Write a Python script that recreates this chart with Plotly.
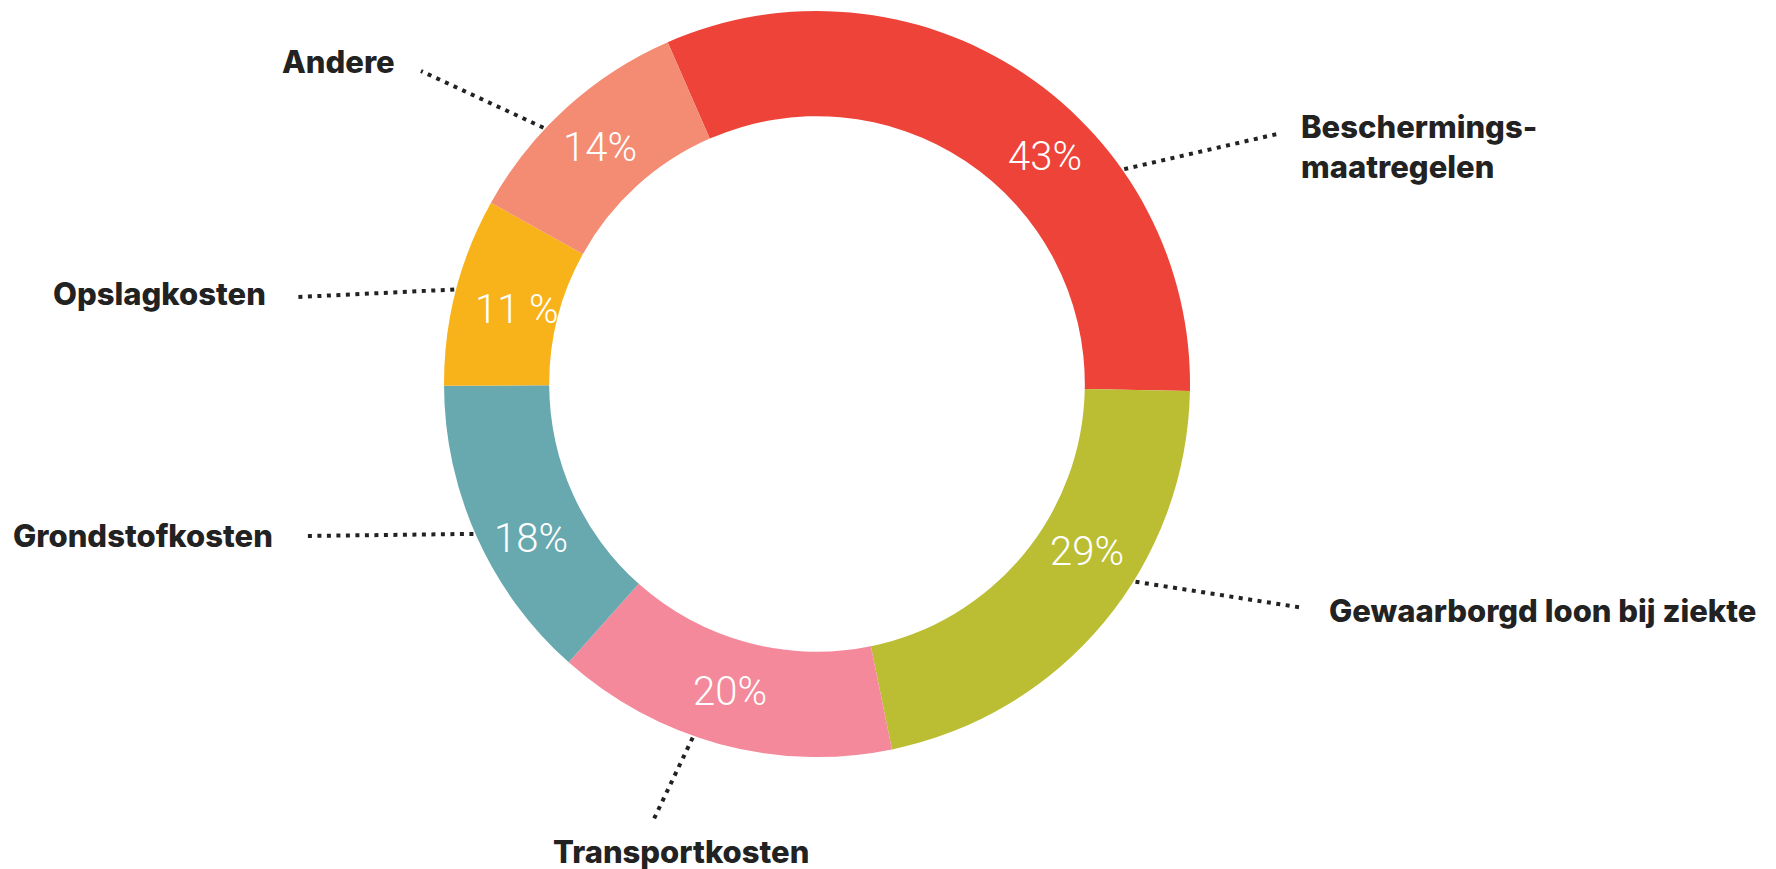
import math
import plotly.graph_objects as go

# data
categories = ["Beschermings-<br>maatregelen", "Gewaarborgd loon bij ziekte", "Transportkosten",
              "Grondstofkosten", "Opslagkosten", "Andere"]
values = [43, 29, 20, 18, 11, 14]
pct_labels = ["43%", "29%", "20%", "18%", "11 %", "14%"]
colors = ["#EE4338", "#BBBE33", "#F3899A", "#68A9B0", "#F9B31A", "#F48B73"]

W, H = 1776, 869
OFF = 8  # page body margin, positions below are in page pixels
ROTATION = -23.6
HOLE = 0.718
DOM_X = [(444 - OFF) / W, (1190 - OFF) / W]
DOM_Y = [1 - (757 - OFF) / H, 1 - (11 - OFF) / H]

# label placement (page pixels): angle offsets from slice middle, radius of the
# percentage text, leader end, text anchor
label_style = {
    "Beschermings-<br>maatregelen": dict(off=21.3, pct_off=11.3, pct_r=322, end=(1277, 134), pos=(1299, 146), anchor="left"),
    "Gewaarborgd loon bij ziekte": dict(off=-7.9, pct_off=-7.9, pct_r=318, end=(1304, 608), pos=(1327, 610), anchor="left"),
    "Transportkosten": dict(off=4.3, pct_off=0.8, pct_r=320, end=(652, 823), pos=(681, 851), anchor="center"),
    "Grondstofkosten": dict(off=0.7, pct_off=-4.1, pct_r=325, end=(306, 536), pos=(275, 535), anchor="right"),
    "Opslagkosten": dict(off=0.2, pct_off=-0.5, pct_r=309, end=(298, 297), pos=(268, 293), anchor="right"),
    "Andere": dict(off=-4.6, pct_off=-0.2, pct_r=321, end=(421, 71), pos=(397, 62), anchor="right"),
}


def px(x):
    return (x - OFF) / W


def py(y):
    return 1 - (y - OFF) / H


fig = go.Figure(go.Pie(
    labels=categories,
    values=values,
    textinfo="none",
    marker=dict(colors=colors, line=dict(width=0)),
    hole=HOLE,
    sort=False,
    direction="clockwise",
    rotation=ROTATION,
    domain=dict(x=DOM_X, y=DOM_Y),
    showlegend=False,
    hoverinfo="label+value",
))

# ring geometry in page pixels, from the pie domain
cx = (DOM_X[0] + DOM_X[1]) / 2 * W + OFF
cy = (1 - (DOM_Y[0] + DOM_Y[1]) / 2) * H + OFF
R = min((DOM_X[1] - DOM_X[0]) * W, (DOM_Y[1] - DOM_Y[0]) * H) / 2
total = sum(values)
start = ROTATION

for cat, v, pct in zip(categories, values, pct_labels):
    span = v / total * 360
    mid = start + span / 2
    st = label_style[cat]

    # percentage inside the ring
    a = math.radians(mid + st["pct_off"])
    rp = st["pct_r"]
    fig.add_annotation(text=pct, xref="paper", yref="paper",
                       x=px(cx + rp * math.sin(a)), y=py(cy - rp * math.cos(a)),
                       xanchor="center", yanchor="middle", showarrow=False,
                       font=dict(family="Roboto", size=40, color="white", weight=300))

    # dotted leader line
    a = math.radians(mid + st["off"])
    x0 = cx + R * 1.005 * math.sin(a)
    y0 = cy - R * 1.005 * math.cos(a)
    x1, y1 = st["end"]
    fig.add_shape(type="line", xref="paper", yref="paper",
                  x0=px(x0), y0=py(y0), x1=px(x1), y1=py(y1),
                  line=dict(color="#222222", width=4, dash="4px,5.5px"))

    # category label
    tx, ty = st["pos"]
    fig.add_annotation(text=cat, xref="paper", yref="paper",
                       x=px(tx), y=py(ty), xanchor=st["anchor"], yanchor="middle",
                       showarrow=False, align="left",
                       font=dict(family="Inter", size=31, color="#222222", weight=800))
    start += span

fig.update_layout(
    width=W, height=H,
    margin=dict(l=0, r=0, t=0, b=0),
    paper_bgcolor="white",
    plot_bgcolor="white",
)

fig.write_html("out.html")
